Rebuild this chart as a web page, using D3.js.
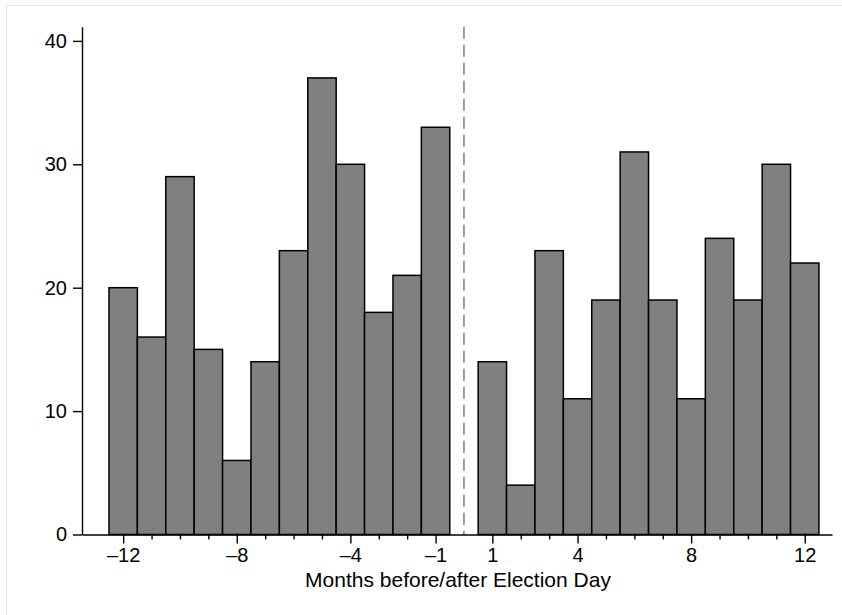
<!DOCTYPE html>
<html>
<head>
<meta charset="utf-8">
<script src="https://cdn.jsdelivr.net/npm/d3@7"></script>
<style>
  html, body { margin: 0; padding: 0; background: #fff; }
  svg { display: block; }
  .axis text { font-family: "Liberation Sans", Arial, Helvetica, sans-serif; font-size: 20px; fill: #000; }
  .axis path, .axis line { stroke: #000; stroke-width: 1.4; }
</style>
</head>
<body>
<div id="plot"></div>
<script>
// months relative to Election Day and counts per month
const monthsBefore = [-12, -11, -10, -9, -8, -7, -6, -5, -4, -3, -2, -1];
const countsBefore = [20, 16, 29, 15, 6, 14, 23, 37, 30, 18, 21, 33];
const monthsAfter = [1, 2, 3, 4, 5, 6, 7, 8, 9, 10, 11, 12];
const countsAfter = [14, 4, 23, 11, 19, 31, 19, 11, 24, 19, 30, 22];
const majorTicks = [-12, -8, -4, -1, 1, 4, 8, 12];
const minorTicks = [-11, -10, -9, -7, -6, -5, -3, -2, 2, 3, 5, 6, 7, 9, 10, 11];
const yTicks = [0, 10, 20, 30, 40];
const xTitle = 'Months before/after Election Day';

function renderChart() {
  const width = 842, height = 615;

  const rows = monthsBefore.map((m, i) => ({ month: m, count: countsBefore[i] }))
    .concat(monthsAfter.map((m, i) => ({ month: m, count: countsAfter[i] })));

  const x = d3.scaleLinear().domain([-13.45, 12.96]).range([82, 832]);
  const y = d3.scaleLinear().domain([0, 41.15]).range([534.5, 26.7]);
  const binW = x(1) - x(0);

  const svg = d3.select('#plot').append('svg')
    .attr('width', width)
    .attr('height', height);

  // outer light frame (clipped at right and bottom)
  svg.append('rect')
    .attr('x', 6.5).attr('y', 5.5)
    .attr('width', width).attr('height', height)
    .attr('fill', 'none')
    .attr('stroke', '#e6e6e6')
    .attr('stroke-width', 1);

  // bars
  svg.append('g').selectAll('rect')
    .data(rows).enter().append('rect')
    .attr('x', d => x(d.month - 0.5))
    .attr('y', d => y(d.count))
    .attr('width', binW)
    .attr('height', d => y(0) - y(d.count))
    .attr('fill', '#808080')
    .attr('stroke', '#000')
    .attr('stroke-width', 1.5);

  // Election Day reference line
  svg.append('line')
    .attr('x1', x(0)).attr('x2', x(0))
    .attr('y1', y(41.15)).attr('y2', y(0))
    .attr('stroke', '#7f7f7f')
    .attr('stroke-width', 1.5)
    .attr('stroke-dasharray', '12,6');

  const fmt = d => (d < 0 ? '\u2013' + Math.abs(d) : String(d));

  // x axis: major ticks with labels
  svg.append('g').attr('class', 'axis')
    .attr('transform', `translate(0,${y(0)})`)
    .call(d3.axisBottom(x).tickValues(majorTicks).tickFormat(fmt)
      .tickSize(9).tickSizeOuter(0).tickPadding(4));

  // x axis: minor ticks
  svg.append('g').attr('class', 'axis')
    .attr('transform', `translate(0,${y(0)})`)
    .call(d3.axisBottom(x).tickValues(minorTicks).tickFormat('')
      .tickSize(5).tickSizeOuter(0))
    .call(g => g.select('.domain').remove());

  // y axis
  svg.append('g').attr('class', 'axis')
    .attr('transform', `translate(${x.range()[0]},0)`)
    .call(d3.axisLeft(y).tickValues(yTicks)
      .tickSize(9).tickSizeOuter(0).tickPadding(6));

  svg.selectAll('.axis .domain').attr('stroke-width', 1.4);

  // x axis title
  svg.append('text')
    .attr('x', 458)
    .attr('y', 586.5)
    .attr('text-anchor', 'middle')
    .style('font-family', '"Liberation Sans", Arial, Helvetica, sans-serif')
    .style('font-size', '21px')
    .text(xTitle);
}

window.addEventListener('DOMContentLoaded', renderChart);
</script>
</body>
</html>
